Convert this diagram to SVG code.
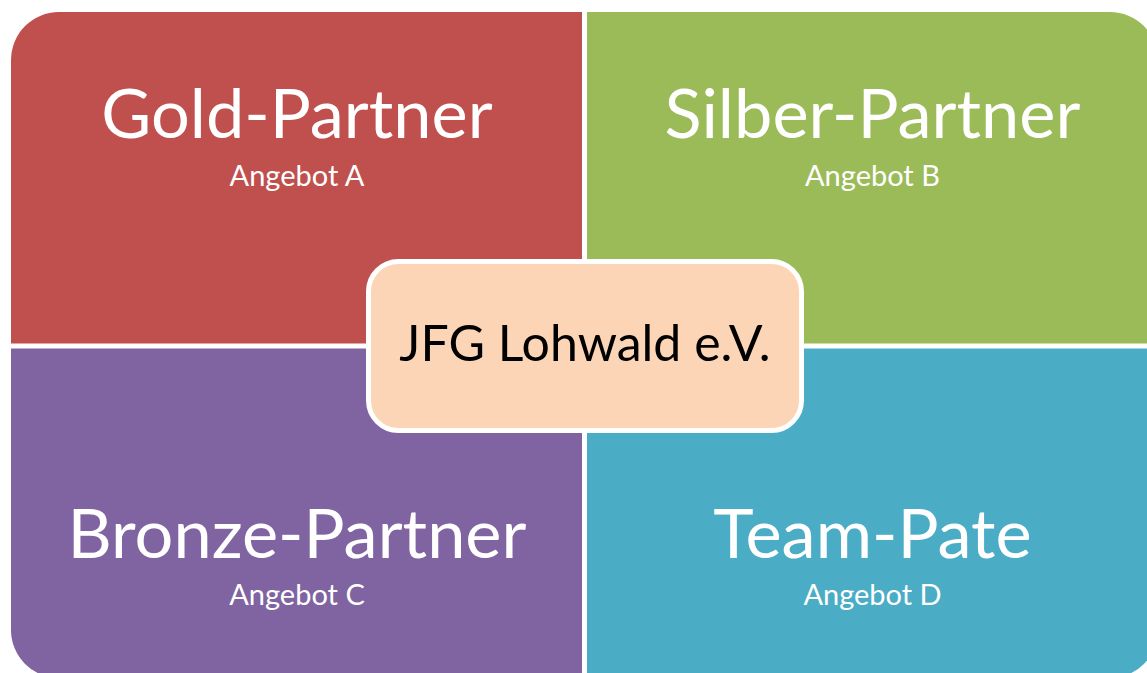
<svg xmlns="http://www.w3.org/2000/svg" width="1147" height="673" viewBox="0 0 1147 673">
<defs>
<clipPath id="outer"><rect x="11" y="12" width="1147" height="666" rx="48" ry="48"/></clipPath>
<style>
.t{font-family:Lato,"Open Sans","Liberation Sans",sans-serif;fill:#fff;text-anchor:middle}
.big{font-size:68.5px}
.small{font-size:29px}
.center{font-family:Lato,"Open Sans","Liberation Sans",sans-serif;font-size:50px;fill:#000;text-anchor:middle}
</style>
</defs>
<rect width="1147" height="673" fill="#fff"/>
<g clip-path="url(#outer)">
<g id="gold">
<rect x="11" y="12" width="571" height="331.5" fill="#C0504D"/>
<text class="t big" x="297" y="138">Gold-Partner</text>
<text class="t small" x="297" y="186">Angebot A</text>
</g>
<g id="silber">
<rect x="587" y="12" width="571" height="331.5" fill="#9BBB59"/>
<text class="t big" x="872.5" y="138">Silber-Partner</text>
<text class="t small" x="872.5" y="186">Angebot B</text>
</g>
<g id="bronze">
<rect x="11" y="348.5" width="571" height="330" fill="#8064A2"/>
<text class="t big" x="297" y="558">Bronze-Partner</text>
<text class="t small" x="297" y="605">Angebot C</text>
</g>
<g id="pate">
<rect x="587" y="348.5" width="571" height="330" fill="#4BACC6"/>
<text class="t big" x="872.5" y="558">Team-Pate</text>
<text class="t small" x="872.5" y="605">Angebot D</text>
</g>
</g>
<g id="connectors"/>
<g id="jfg">
<rect x="368.5" y="261.5" width="433" height="169" rx="30" ry="30" fill="#FBD5B5" stroke="#fff" stroke-width="5"/>
<text class="center" x="585" y="361">JFG Lohwald e.V.</text>
</g>
</svg>
